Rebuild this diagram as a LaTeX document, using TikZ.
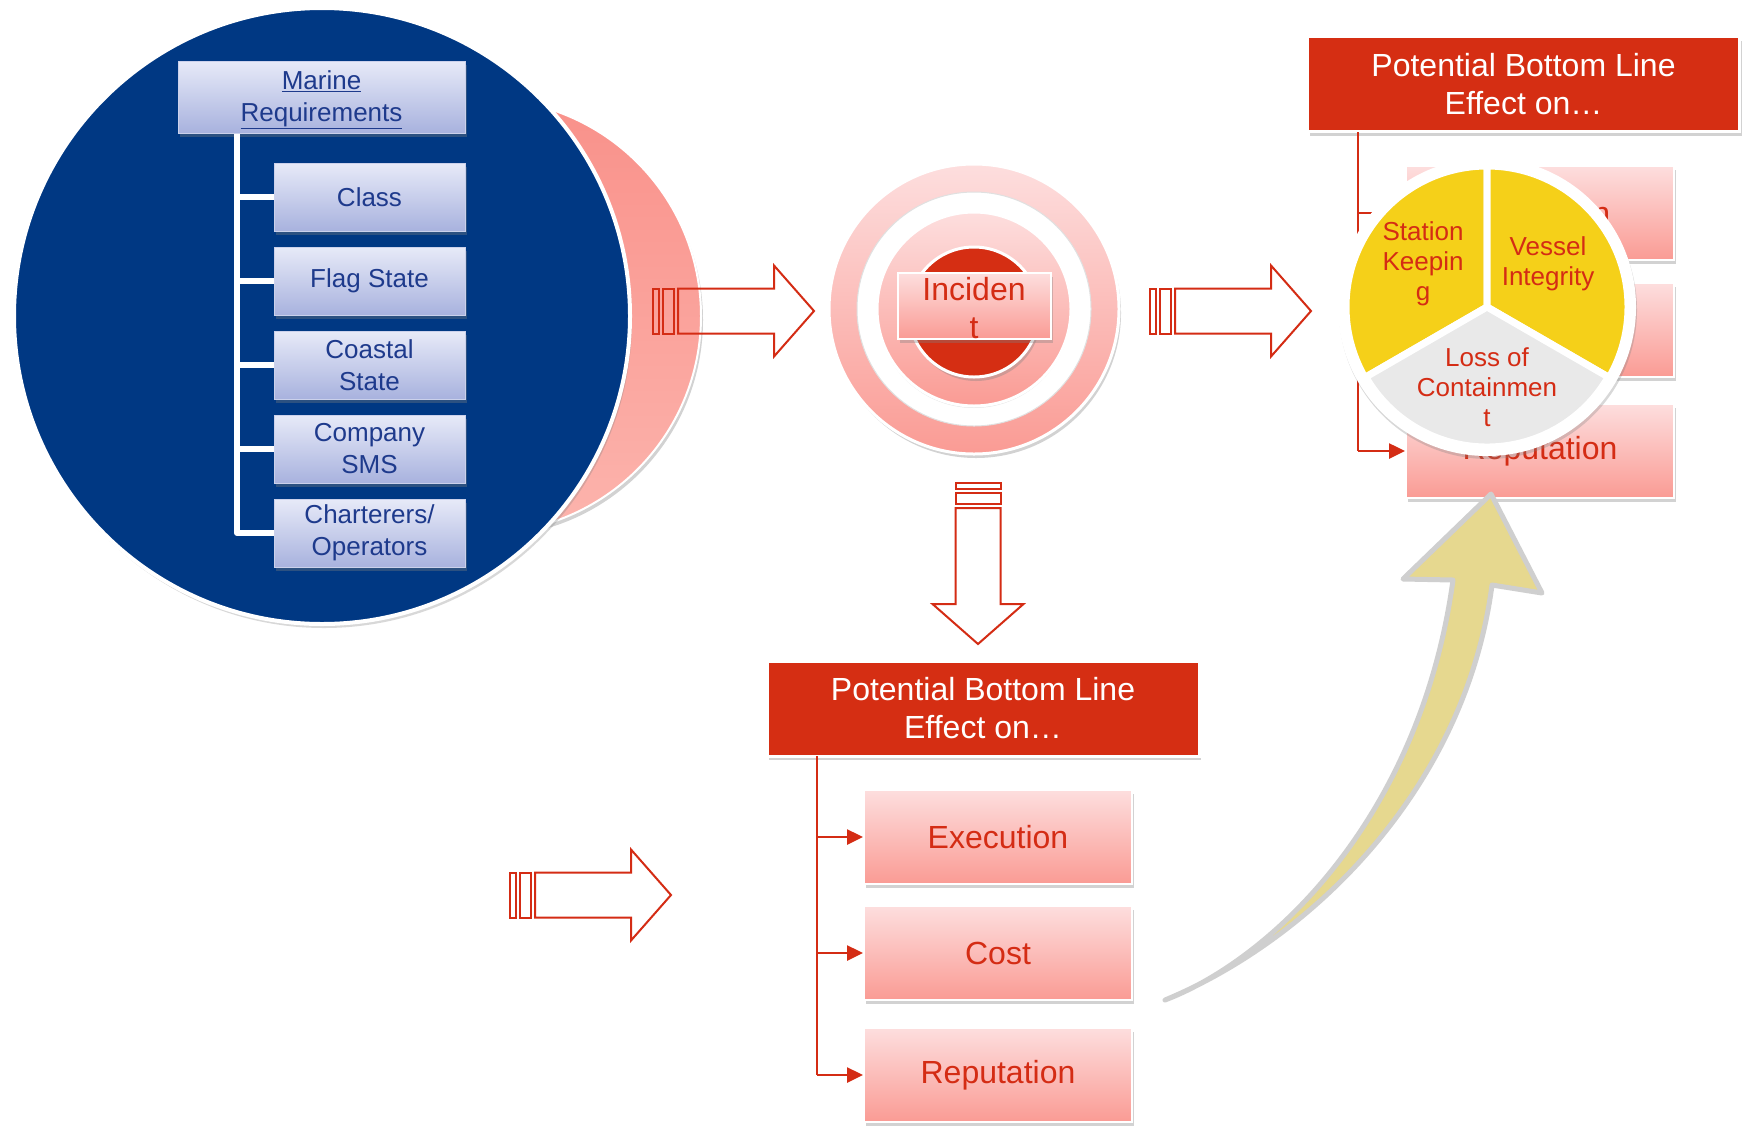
\documentclass[tikz,border=0pt]{standalone}
\usepackage{fontspec}
\setmainfont{Liberation Sans}
\usetikzlibrary{shadows,arrows.meta}

\definecolor{navy}{RGB}{0,56,131}
\definecolor{boxred}{RGB}{213,46,19}
\definecolor{txtred}{RGB}{212,44,20}
\definecolor{pinktop}{RGB}{253,222,222}
\definecolor{pinkbot}{RGB}{250,155,148}
\definecolor{backtop}{RGB}{249,145,138}
\definecolor{backbot}{RGB}{252,180,173}
\definecolor{lavtop}{RGB}{231,234,248}
\definecolor{lavbot}{RGB}{168,178,222}
\definecolor{txtblue}{RGB}{30,58,140}
\definecolor{pieyellow}{RGB}{245,208,25}
\definecolor{piegray}{RGB}{233,233,233}
\definecolor{curvefill}{RGB}{230,216,143}
\definecolor{curveline}{RGB}{207,207,207}

\tikzset{
  softshadow/.style={drop shadow={opacity=0.35, shadow xshift=2pt, shadow yshift=-4pt}},
  bluebox/.style={rectangle, top color=lavtop, bottom color=lavbot, draw=lavbot!60!white,
    line width=0.6, softshadow, text=txtblue, align=center, inner sep=0,
    minimum width=191, minimum height=68, font=\fontsize{26}{32}\selectfont},
  pinkbox/.style={rectangle, top color=pinktop, bottom color=pinkbot, draw=white,
    line width=2, softshadow, text=txtred, inner sep=0,
    minimum width=268, minimum height=94, font=\fontsize{32}{38}\selectfont},
  headbox/.style={rectangle, fill=boxred, draw=white, line width=3, softshadow,
    text=white, align=center, inner sep=0,
    minimum width=432, minimum height=95, font=\fontsize{32}{38}\selectfont},
  tree/.style={white, line width=6, line join=round},
  redarrow/.style={txtred, line width=2.5, -{Triangle[length=16pt,width=15pt]}},
  arrowline/.style={txtred, line width=2, line join=miter},
  pietext/.style={text=txtred, align=center, font=\fontsize{26}{30}\selectfont},
  pics/blockarrow/.style={code={
    \draw[arrowline] (0,-22.5) rectangle (6,22.5);
    \draw[arrowline] (10,-22.5) rectangle (21,22.5);
    \draw[arrowline] (25,-22.5) -- (121,-22.5) -- (121,-45.5) -- (161,0)
      -- (121,45.5) -- (121,22.5) -- (25,22.5) -- cycle;
  }}
}

\begin{document}
\begin{tikzpicture}[x=1pt,y=-1pt]
  % 背景
  \fill[white] (0,0) rectangle (1744,1125);
  \useasboundingbox (0,0) rectangle (1744,1125);
  % 两个圆
  \node[circle, top color=backtop, bottom color=backbot, draw=white, line width=2,
    minimum size=434, softshadow] (back) at (484,316) {};
  \node[circle, fill=navy, draw=white, line width=4, minimum size=616,
    drop shadow={opacity=0.3, shadow xshift=2pt, shadow yshift=-4pt}] (req) at (322,316) {};
  % 要求
  \node[bluebox, minimum width=287, minimum height=72] (marine) at (321.5,97)
    {\rule{0pt}{24pt}\underline{Marine}\\\underline{Requirements}};
  \node[bluebox] (class) at (369.5,197) {Class};
  \node[bluebox] (flag) at (369.5,281) {Flag State};
  \node[bluebox] (coastal) at (369.5,365) {Coastal\\State};
  \node[bluebox] (company) at (369.5,449) {Company\\SMS};
  \node[bluebox] (charter) at (369.5,533) {Charterers/\\Operators};
  % 白线
  \coordinate (trunk) at (237,134);
  \draw[tree] (trunk) |- (charter.west);
  \foreach \n in {class,flag,coastal,company}
    \draw[tree] (trunk |- \n.west) -- (\n.west);
  % 四个箭头
  \pic at (653,311) {blockarrow};
  \pic at (1150,311) {blockarrow};
  \pic at (510,895) {blockarrow};
  \pic[rotate=-90] at (978,483) {blockarrow};
  % 靶心
  \node[circle, top color=pinktop, bottom color=pinkbot, draw=white, line width=3,
    minimum size=290, softshadow] (ring) at (974,309) {};
  \node[circle, fill=white, draw=black!12, line width=1, minimum size=234] (gap) at (ring) {};
  \node[circle, top color=pinktop, bottom color=pinkbot, draw=white, line width=3,
    minimum size=194, drop shadow={opacity=0.2, shadow xshift=0pt, shadow yshift=-2pt}] (inner) at (ring) {};
  \node[circle, fill=boxred, draw=white, line width=3, minimum size=130, softshadow] (core) at (974,312) {};
  \node[pinkbox, minimum width=153, minimum height=66] (incident) at (974,306) {};
  \node[text=txtred, align=center, font=\fontsize{32}{38}\selectfont] (inctext) at (974,308.5) {Inciden\\t};
  % 右边
  \node[headbox] (headR) at (1523.5,84) {Potential Bottom Line\\Effect on\ldots};
  \node[pinkbox] (execR) at (1540,213) {Execution};
  \node[pinkbox] (costR) at (1540,330) {Cost};
  \node[pinkbox] (repR) at (1540,451) {Reputation};
  \coordinate (busR) at (1358,132);
  \draw[txtred, line width=2.5] (busR) -- (busR |- repR.west);
  \foreach \n in {execR,costR,repR}
    \draw[redarrow] (busR |- \n.west) -- (\n.west);
  % 饼图
  \coordinate (pie) at (1487,307);
  \fill[white, drop shadow={opacity=0.3, shadow xshift=1pt, shadow yshift=-3pt}] (pie) circle (149);
  \filldraw[fill=pieyellow, draw=white, line width=7, line join=round]
    (pie) -- ++(-90:141) arc[start angle=-90, end angle=-210, radius=141] -- cycle;
  \filldraw[fill=pieyellow, draw=white, line width=7, line join=round]
    (pie) -- ++(-90:141) arc[start angle=-90, end angle=30, radius=141] -- cycle;
  \begin{scope}[shift={(0,8)}]
    \filldraw[fill=piegray, draw=white, line width=7, line join=round,
      drop shadow={opacity=0.3, shadow xshift=0pt, shadow yshift=2pt}]
      (pie) -- ++(30:140) arc[start angle=30, end angle=150, radius=140] -- cycle;
  \end{scope}
  \node[pietext] (station) at (1423,263.5) {Station\\Keepin\\g};
  \node[pietext] (vessel) at (1548,264) {Vessel\\Integrity};
  \node[pietext] (loss) at (1487,387) {Loss of\\Containmen\\t};
  % 下边
  \node[headbox] (headB) at (983,708.5) {Potential Bottom Line\\Effect on\ldots};
  \node[pinkbox] (exec) at (998,837) {Execution};
  \node[pinkbox] (cost) at (998,953) {Cost};
  \node[pinkbox] (rep) at (998,1075) {Reputation};
  \coordinate (bus) at (817,756);
  \draw[txtred, line width=2.5] (bus) -- (bus |- rep.west);
  \foreach \n in {exec,cost,rep}
    \draw[redarrow] (bus |- \n.west) -- (\n.west);
  % 弯箭头
  \filldraw[fill=curvefill, draw=curveline, line width=5, line join=round]
    (1165,1000) .. controls (1270,960) and (1420,820) .. (1453,580)
    -- (1403,579) -- (1491,494) -- (1542,593) -- (1492,585)
    .. controls (1465,790) and (1310,940) .. (1165,1000) -- cycle;
\end{tikzpicture}
\end{document}
